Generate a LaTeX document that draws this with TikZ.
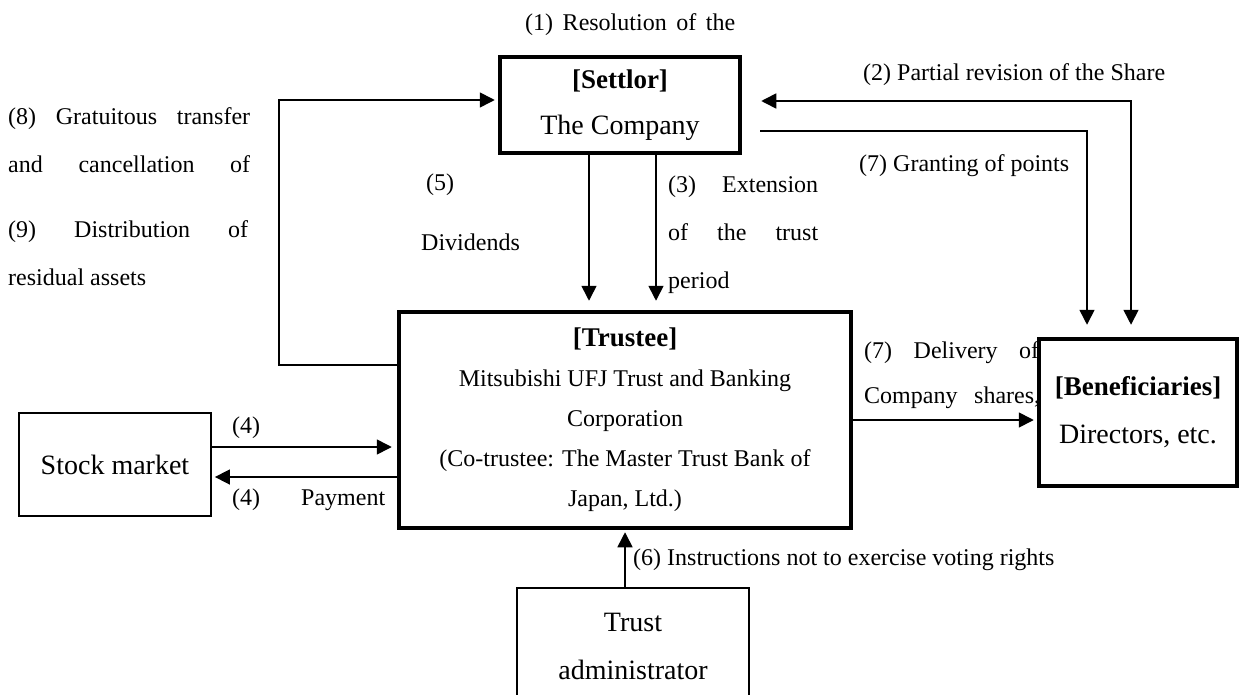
\documentclass[tikz,border=0pt]{standalone}
\usepackage{fontspec}
\setmainfont{Liberation Serif}
\usetikzlibrary{arrows.meta}

\tikzset{
  heavybox/.style={draw,line width=4.5pt,fill=white,align=center,inner sep=0pt},
  lightbox/.style={draw,line width=1.8pt,fill=white,align=center,inner sep=0pt},
  flow/.style={line width=1.6pt,-{Triangle[length=15pt,width=15pt]}},
  flowboth/.style={line width=1.6pt,{Triangle[length=15pt,width=15pt]}-{Triangle[length=15pt,width=15pt]}},
  note/.style={anchor=west,inner sep=0pt,align=left,font=\fontsize{24}{48}\selectfont},
}

\begin{document}
\begin{tikzpicture}[x=1pt,y=-1pt]
   \useasboundingbox (0,0) rectangle (1241,695);
   \clip (0,0) rectangle (1241,695);

   % labels
   \node[note] (resolve) at (525,25) {\makebox[210pt][s]{(1) Resolution of the}};
   \node[note] (revise) at (863,75) {(2) Partial revision of the Share};
   \node[note] (grant) at (859,166) {(7) Granting of points};
   \node[note] (extend) at (668,235) {\makebox[150pt][s]{(3) Extension}\\\makebox[150pt][s]{of the trust}\\period};
   \node[note,font=\fontsize{24}{60}\selectfont] (divid) at (421,212) {\hspace*{5pt}(5)\\Dividends};
   \node[note] (gratis) at (8,140) {\makebox[242pt][s]{(8) Gratuitous transfer}\\\makebox[242pt][s]{and cancellation of}};
   \node[note] (residual) at (8,253.5) {\makebox[240pt][s]{(9) Distribution of}\\residual assets};
   \node[note,font=\fontsize{24}{45}\selectfont] (deliver) at (864,375.5) {\makebox[175pt][s]{(7) Delivery of}\\\makebox[176pt][s]{Company shares,}};
   \node[note] (buyA) at (232,428) {(4)};
   \node[note] (buyB) at (232,500) {\makebox[153pt][s]{(4) Payment}};
   \node[note] (voting) at (633,560) {(6) Instructions not to exercise voting rights};

   % boxes
   \node[heavybox,minimum width=240pt,minimum height=96pt,font=\fontsize{28}{46}\selectfont] (settlor) at (620,105)
      {{\fontsize{27}{46}\selectfont\bfseries [Settlor]}\\The Company};
   \node[heavybox,minimum width=452pt,minimum height=216pt,font=\fontsize{24}{40}\selectfont] (trustee) at (625,420)
      {{\fontsize{27}{40}\selectfont\bfseries [Trustee]}\\Mitsubishi UFJ Trust and Banking\\Corporation\\(Co-trustee: The Master Trust Bank of\\Japan, Ltd.)};
   \node[heavybox,minimum width=198pt,minimum height=147pt,font=\fontsize{28}{48}\selectfont] (beneficiaries) at (1138,412.5)
      {{\fontsize{27}{48}\selectfont\bfseries [Beneficiaries]}\\Directors, etc.};
   \node[lightbox,minimum width=192pt,minimum height=103pt,font=\fontsize{28}{34}\selectfont] (stock) at (115,464.5) {Stock market};
   \node[lightbox,minimum width=232pt,minimum height=116pt,font=\fontsize{28}{48}\selectfont] (admin) at (633,646) {Trust\\administrator};

   % connectors
   \coordinate (loopA) at (279,365);
   \coordinate (loopB) at (279,100);
   \draw[flow,shorten >=3pt] (trustee.west |- loopA) -- (loopA) -- (loopB) -- (settlor.west |- loopB);

   \coordinate (reviseC) at (1131,101);
   \draw[flowboth,shorten <=19pt,shorten >=12pt] (settlor.east |- reviseC) -- (reviseC) -- (beneficiaries.north -| reviseC);
   \coordinate (grantC) at (1087,131);
   \draw[flow,shorten <=18pt,shorten >=12pt] (settlor.east |- grantC) -- (grantC) -- (beneficiaries.north -| grantC);

   \draw[flow,shorten >=9pt] ([xshift=-31pt]settlor.south) -- ([xshift=-31pt]settlor.south |- trustee.north);
   \draw[flow,shorten >=9pt] ([xshift=36pt]settlor.south) -- ([xshift=36pt]settlor.south |- trustee.north);

   \draw[flow,shorten >=3pt] (trustee.east) -- (beneficiaries.west |- trustee.east);

   \coordinate (buyIn) at (0,447);
   \coordinate (payOut) at (0,477);
   \draw[flow,shorten >=5pt] (stock.east |- buyIn) -- (trustee.west |- buyIn);
   \draw[flow,shorten >=3pt] (trustee.west |- payOut) -- (stock.east |- payOut);

   \draw[flow,shorten >=2pt] (admin.north -| trustee.south) -- (trustee.south);
\end{tikzpicture}
\end{document}
